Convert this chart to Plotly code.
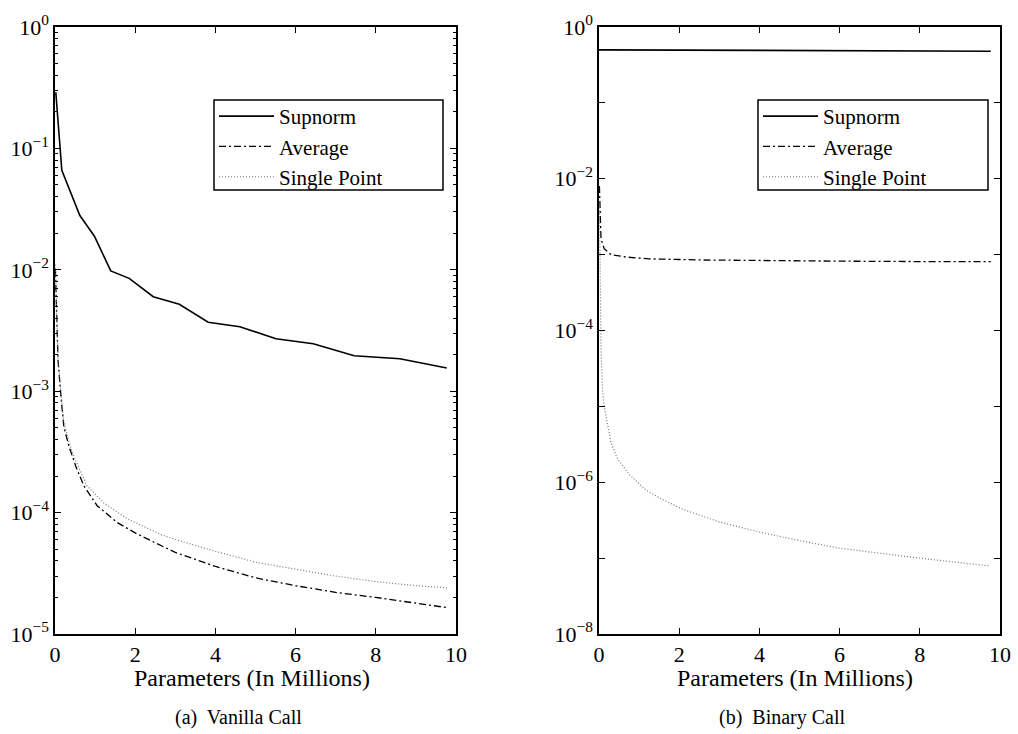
import plotly.graph_objects as go

# ---------------- data ----------------
# (a) Vanilla Call
van_sup_x = [0.02, 0.17, 0.62, 0.98, 1.39, 1.85, 2.45, 3.10, 3.82, 4.61, 5.51, 6.44, 7.46, 8.60, 9.77]
van_sup_y = [0.29, 0.066, 0.028, 0.019, 0.0098, 0.0085, 0.0060, 0.0052, 0.0037, 0.0034,
             0.0027, 0.00246, 0.00196, 0.00185, 0.00155]

van_avg_x = [0.01, 0.06, 0.075, 0.14, 0.22, 0.35, 0.52, 0.72, 1.05, 1.55, 2.0, 2.47, 3.0,
             4.0, 5.0, 6.0, 7.0, 8.0, 9.0, 9.77]
van_avg_y = [1.0e-2, 3.4e-3, 1.8e-3, 9.8e-4, 5.1e-4, 3.5e-4, 2.4e-4, 1.66e-4, 1.14e-4, 8.3e-5,
             6.8e-5, 5.7e-5, 4.7e-5, 3.6e-5, 2.9e-5, 2.5e-5, 2.2e-5, 2.0e-5, 1.8e-5, 1.65e-5]

van_sp_x = [0.01, 0.06, 0.075, 0.14, 0.22, 0.35, 0.47, 0.80, 1.22, 1.80, 2.64, 3.0,
            4.0, 5.0, 6.0, 7.0, 8.0, 9.0, 9.77]
van_sp_y = [1.1e-2, 3.6e-3, 1.9e-3, 1.05e-3, 5.6e-4, 3.8e-4, 2.9e-4, 1.66e-4, 1.2e-4, 8.9e-5,
            6.6e-5, 6.0e-5, 4.8e-5, 3.9e-5, 3.4e-5, 3.0e-5, 2.7e-5, 2.5e-5, 2.4e-5]

# (b) Binary Call
bin_sup_x = [0.0, 2.0, 4.0, 6.0, 8.0, 9.77]
bin_sup_y = [0.50, 0.495, 0.49, 0.487, 0.484, 0.48]

bin_avg_x = [0.01, 0.03, 0.05, 0.13, 0.30, 0.67, 1.25, 2.6, 4.0, 6.0, 8.0, 9.77]
bin_avg_y = [8.0e-3, 2.5e-3, 1.6e-3, 1.2e-3, 1.0e-3, 9.3e-4, 8.8e-4, 8.5e-4, 8.3e-4,
             8.2e-4, 8.1e-4, 8.1e-4]

bin_sp_x = [0.01, 0.03, 0.04, 0.05, 0.09, 0.13, 0.22, 0.30, 0.47, 0.76, 1.17, 1.59, 2.09,
            3.0, 4.01, 5.0, 6.0, 7.0, 8.0, 9.0, 9.75]
bin_sp_y = [5.0e-3, 1.1e-3, 1.9e-4, 5.5e-5, 1.6e-5, 1.0e-5, 5.4e-6, 3.3e-6, 2.0e-6, 1.26e-6,
            7.9e-7, 5.9e-7, 4.4e-7, 3.0e-7, 2.2e-7, 1.7e-7, 1.35e-7, 1.15e-7, 1.0e-7, 8.7e-8, 7.9e-8]

x_ticks = [0, 2, 4, 6, 8, 10]
left_decades = [0, -1, -2, -3, -4, -5]
right_labeled = [0, -2, -4, -6, -8]
right_unlabeled = [-1, -3, -5, -7]
series_names = ["Supnorm", "Average", "Single Point"]
captions = ["(a)  Vanilla Call", "(b)  Binary Call"]
x_title = "Parameters (In Millions)"

# ---------------- figure ----------------
FONT = "Liberation Serif"
W, H = 1018, 734

styles = [
    dict(color="black", width=1.6, dash="solid"),
    dict(color="black", width=1.3, dash="7px,3px,2px,3px"),
    dict(color="#777777", width=1.2, dash="1px,2px"),
]

fig = go.Figure()

panels = [
    ("x", "y", "legend", [(van_sup_x, van_sup_y), (van_avg_x, van_avg_y), (van_sp_x, van_sp_y)]),
    ("x2", "y2", "legend2", [(bin_sup_x, bin_sup_y), (bin_avg_x, bin_avg_y), (bin_sp_x, bin_sp_y)]),
]
for xa, ya, lg, data in panels:
    for (xs, ys), name, st in zip(data, series_names, styles):
        fig.add_trace(go.Scatter(x=xs, y=ys, mode="lines", name=name, line=st,
                                 xaxis=xa, yaxis=ya, legend=lg, showlegend=True))


def sup(n):
    return "10<sup>%s</sup>" % (str(n).replace("-", "\u2212"))


# pixel geometry
L1, R1 = 55, 456
L2, R2 = 599, 1000
TOP, BOT = 27, 634
ydom = [1 - BOT / H, 1 - TOP / H]

axis_common = dict(
    showline=True, linecolor="black", linewidth=1.5, mirror="ticks",
    ticks="inside", ticklen=6, tickwidth=1.2, tickcolor="black",
    showgrid=False, zeroline=False, automargin=False,
    tickfont=dict(family=FONT, size=22, color="black"),
)

left_minor = [m * 10 ** e for e in range(-5, 0) for m in range(2, 10)]

legend_common = dict(yanchor="top", xanchor="left", y=1 - 96 / H,
                     bordercolor="black", borderwidth=0, bgcolor="rgba(0,0,0,0)",
                     font=dict(family=FONT, size=21, color="black"), itemwidth=55,
                     tracegroupgap=0)

fig.update_layout(
    width=W, height=H,
    margin=dict(l=0, r=0, t=0, b=0, autoexpand=False),
    paper_bgcolor="white", plot_bgcolor="white",
    font=dict(family=FONT, color="black"),
    xaxis=dict(domain=[L1 / W, R1 / W], range=[0, 10], tickvals=x_ticks, anchor="y", **axis_common),
    yaxis=dict(domain=ydom, type="log", range=[-5, 0], anchor="x",
               tickvals=[10 ** e for e in left_decades], ticktext=[sup(e) for e in left_decades],
               minor=dict(tickvals=left_minor, ticks="inside", ticklen=3, tickcolor="black", tickwidth=1),
               **axis_common),
    xaxis2=dict(domain=[L2 / W, R2 / W], range=[0, 10], tickvals=x_ticks, anchor="y2", **axis_common),
    yaxis2=dict(domain=ydom, type="log", range=[-8, 0], anchor="x2",
                tickvals=[10 ** e for e in right_labeled],
                ticktext=[sup(e) for e in right_labeled],
                minor=dict(tickvals=[10 ** e for e in right_unlabeled], ticks="inside", ticklen=6,
                           tickcolor="black", tickwidth=1.2),
                **axis_common),
    legend=dict(x=214 / W, **legend_common),
    legend2=dict(x=758 / W, **legend_common),
)

# legend frames (white boxes with black border, drawn above the curves; legends sit on top)
for x0, x1 in [(214, 443), (758, 988)]:
    fig.add_shape(type="rect", xref="paper", yref="paper",
                  x0=x0 / W, x1=x1 / W, y0=1 - 190 / H, y1=1 - 100 / H,
                  line=dict(color="black", width=1.5), fillcolor="white", layer="above")

# axis titles and captions
for cx in [252, 795]:
    fig.add_annotation(text=x_title, x=cx / W, y=1 - 678 / H, xref="paper", yref="paper",
                       showarrow=False, font=dict(family=FONT, size=24, color="black"),
                       xanchor="center", yanchor="middle")
for cx, cap in [(238, captions[0]), (782, captions[1])]:
    fig.add_annotation(text=cap, x=cx / W, y=1 - 717 / H, xref="paper", yref="paper",
                       showarrow=False, font=dict(family=FONT, size=20, color="black"),
                       xanchor="center", yanchor="middle")

fig.write_html("out.html")
